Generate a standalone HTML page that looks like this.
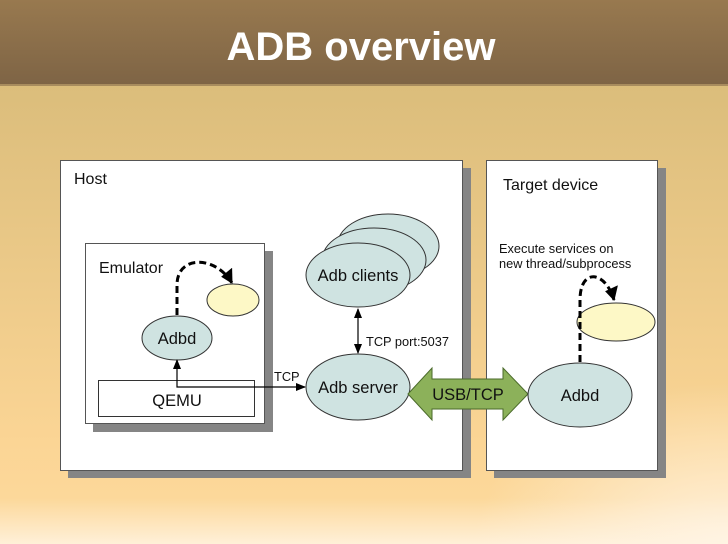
<!DOCTYPE html>
<html><head><meta charset="utf-8"><style>
html,body{margin:0;padding:0;width:728px;height:544px;overflow:hidden}
svg{display:block}
text{font-family:"Liberation Sans",sans-serif;fill:#111}
</style></head><body>
<svg width="728" height="544" viewBox="0 0 728 544" xmlns="http://www.w3.org/2000/svg">
<defs>
<linearGradient id="hd" x1="0" y1="0" x2="0" y2="1">
<stop offset="0" stop-color="#98794f"/><stop offset="1" stop-color="#7e6445"/>
</linearGradient>
<linearGradient id="bg" x1="0" y1="0" x2="0" y2="1">
<stop offset="0" stop-color="#dbbd7b"/><stop offset="0.78" stop-color="#fbd595"/><stop offset="0.9" stop-color="#fcd89a"/><stop offset="1" stop-color="#fff0d8"/>
</linearGradient>
<radialGradient id="br" cx="1" cy="1" r="0.35">
<stop offset="0" stop-color="#fff4e4" stop-opacity="0.9"/><stop offset="1" stop-color="#fff4e4" stop-opacity="0"/>
</radialGradient>
<marker id="ah" markerWidth="10" markerHeight="10" refX="9" refY="5" orient="auto" markerUnits="userSpaceOnUse">
<path d="M0,1 L10,5 L0,9 z" fill="#000"/></marker>
<marker id="ahs" markerWidth="10" markerHeight="10" refX="1" refY="5" orient="auto" markerUnits="userSpaceOnUse">
<path d="M10,1 L0,5 L10,9 z" fill="#000"/></marker>
<marker id="big" markerWidth="14" markerHeight="16" refX="13" refY="8" orient="auto" markerUnits="userSpaceOnUse">
<path d="M0,0 L14,8 L2,14 z" fill="#000"/></marker>
</defs>
<rect x="0" y="85" width="728" height="459" fill="url(#bg)"/>
<rect x="0" y="85" width="728" height="459" fill="url(#br)"/>
<rect x="0" y="0" width="728" height="85" fill="url(#hd)"/>
<rect x="0" y="84" width="728" height="2" fill="#a88c5e"/>
<text x="361" y="60" text-anchor="middle" font-size="40" font-weight="bold" style="fill:#fff">ADB overview</text>

<!-- Host -->
<rect x="68" y="168" width="403" height="310" fill="#858585"/>
<rect x="60.5" y="160.5" width="402" height="310" fill="#fff" stroke="#555"/>
<text x="74" y="184" font-size="16">Host</text>
<!-- Target -->
<rect x="494" y="168" width="172" height="310" fill="#858585"/>
<rect x="486.5" y="160.5" width="171" height="310" fill="#fff" stroke="#555"/>
<text x="503" y="190" font-size="16">Target device</text>
<text x="499" y="253" font-size="12.8">Execute services on</text>
<text x="499" y="268" font-size="12.8">new thread/subprocess</text>

<!-- Emulator -->
<rect x="93" y="251" width="180" height="181" fill="#858585"/>
<rect x="85.5" y="243.5" width="179" height="180" fill="#fff" stroke="#555"/>
<text x="99" y="273" font-size="16">Emulator</text>
<rect x="98.5" y="380.5" width="156" height="36" fill="#fff" stroke="#333"/>
<text x="177" y="406" font-size="16.5" text-anchor="middle">QEMU</text>

<path d="M177,315 L177,285 C177,255 215,255 232,283" fill="none" stroke="#000" stroke-width="3" stroke-dasharray="7,4" marker-end="url(#big)"/>
<ellipse cx="233" cy="300" rx="26" ry="16" fill="#fdf8c6" stroke="#333"/>
<ellipse cx="177" cy="338" rx="35" ry="22" fill="#cfe3e1" stroke="#333"/>
<text x="177" y="344" font-size="16.5" text-anchor="middle">Adbd</text>

<path d="M177,360 L177,387 L305,387" fill="none" stroke="#000" stroke-width="1.2" marker-start="url(#ahs)" marker-end="url(#ah)"/>
<text x="274" y="381" font-size="12.8">TCP</text>

<!-- clients -->
<ellipse cx="388" cy="246" rx="51" ry="32" fill="#cfe3e1" stroke="#333"/>
<ellipse cx="374" cy="260" rx="52" ry="32" fill="#cfe3e1" stroke="#333"/>
<ellipse cx="358" cy="275" rx="52" ry="32" fill="#cfe3e1" stroke="#333"/>
<text x="358" y="281" font-size="16.5" text-anchor="middle">Adb clients</text>
<line x1="358" y1="309" x2="358" y2="353" stroke="#000" stroke-width="1.2" marker-start="url(#ahs)" marker-end="url(#ah)"/>
<text x="366" y="346" font-size="12.8">TCP port:5037</text>
<ellipse cx="358" cy="387" rx="52" ry="33" fill="#cfe3e1" stroke="#333"/>
<text x="358" y="393" font-size="16.5" text-anchor="middle">Adb server</text>

<!-- USB/TCP -->
<path d="M408,394 L432,368 L432,379 L503,379 L503,368 L528,394 L503,420 L503,409 L432,409 L432,420 Z" fill="#8cb15a" stroke="#4a6a2a"/>
<text x="468" y="400" font-size="16.5" text-anchor="middle">USB/TCP</text>

<!-- target adbd -->
<ellipse cx="616" cy="322" rx="39" ry="19" fill="#fdf8c6" stroke="#333"/>
<path d="M580,362 L580,300 C580,268 605,270 614,300" fill="none" stroke="#000" stroke-width="3" stroke-dasharray="7,4" marker-end="url(#big)"/>
<ellipse cx="580" cy="395" rx="52" ry="32" fill="#cfe3e1" stroke="#333"/>
<text x="580" y="401" font-size="16.5" text-anchor="middle">Adbd</text>
</svg>
</body></html>
